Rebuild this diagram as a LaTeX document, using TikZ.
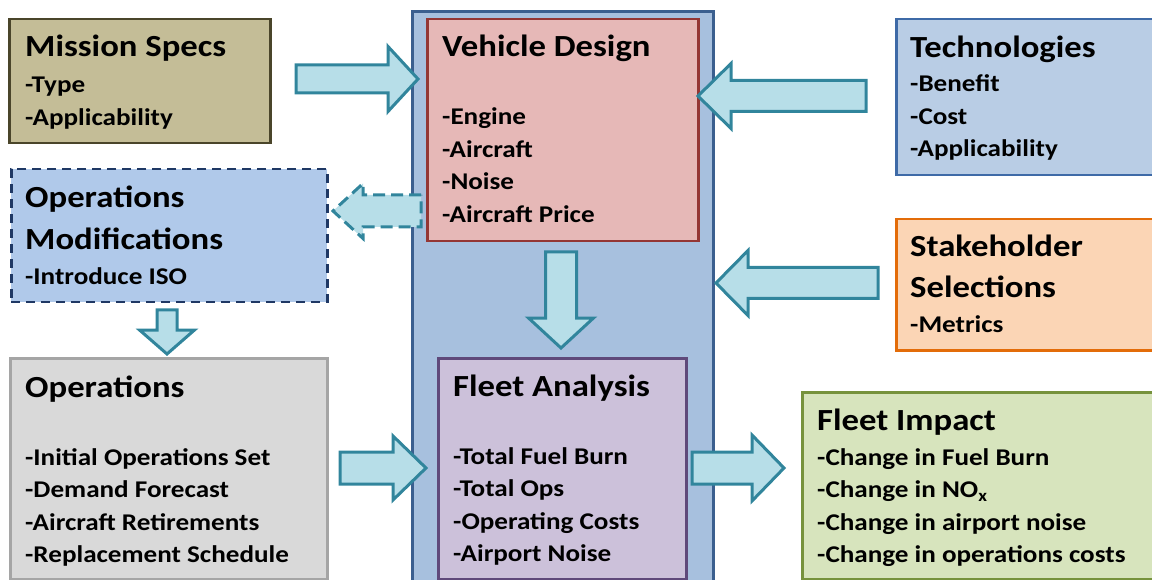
\documentclass[tikz,border=0pt]{standalone}
\usepackage{fontspec}
\setmainfont[FakeStretch=1.13]{Carlito}
\usepackage{xcolor}
\usetikzlibrary{calc}

\definecolor{contfill}{HTML}{A7C0DE}
\definecolor{contline}{HTML}{3B5F8F}
\definecolor{vdfill}{HTML}{E6B8B7}
\definecolor{vdline}{HTML}{943634}
\definecolor{fafill}{HTML}{CCC1DA}
\definecolor{faline}{HTML}{5F497A}
\definecolor{msfill}{HTML}{C4BD97}
\definecolor{msline}{HTML}{4A452A}
\definecolor{omfill}{HTML}{B0C9EA}
\definecolor{omline}{HTML}{1F3864}
\definecolor{opfill}{HTML}{D9D9D9}
\definecolor{opline}{HTML}{A5A5A5}
\definecolor{tefill}{HTML}{B9CDE5}
\definecolor{teline}{HTML}{3E6AA7}
\definecolor{shfill}{HTML}{FBD5B5}
\definecolor{shline}{HTML}{E36C09}
\definecolor{fifill}{HTML}{D7E4BD}
\definecolor{filine}{HTML}{76923C}
\definecolor{arrfill}{HTML}{B7DEE8}
\definecolor{arrline}{HTML}{31859C}

\tikzset{
  box/.style={draw, line width=2.5pt, anchor=north west, inner sep=0pt},
  ttl/.style={anchor=base west, inner sep=0pt, font=\fontsize{30.7}{32}\selectfont\bfseries},
  itm/.style={anchor=base west, inner sep=0pt, font=\fontsize{24}{26}\selectfont\bfseries},
  barrow/.style={draw=arrline, fill=arrfill, line width=3pt, line join=miter},
}

% horizontal block arrow: tail x, head base x, tip x, mid y, shaft half, head half
\newcommand\harr[7][]{%
  \draw[barrow,#1] ({#2},{#5-#6}) -- ({#3},{#5-#6}) -- ({#3},{#5-#7}) -- ({#4},{#5})
    -- ({#3},{#5+#7}) -- ({#3},{#5+#6}) -- ({#2},{#5+#6}) -- cycle;}
% vertical block arrow: tail y, head base y, tip y, mid x, shaft half, head half
\newcommand\varr[7][]{%
  \draw[barrow,#1] ({#5-#6},{#2}) -- ({#5-#6},{#3}) -- ({#5-#7},{#3}) -- ({#5},{#4})
    -- ({#5+#7},{#3}) -- ({#5+#6},{#3}) -- ({#5+#6},{#2}) -- cycle;}
% list of items, one per line
\newcommand\items[3]{%
  \foreach \t [count=\i from 0] in {#3}
    \node[itm] at ({#1},{#2+32.5*\i}) {\t};}

\begin{document}
\begin{tikzpicture}[x=1pt,y=-1pt]
\useasboundingbox (0,0) rectangle (1152,580);

% centre column
\node[box, line width=3pt, fill=contfill, draw=contline, minimum width=301, minimum height=600] (core) at (411,10) {};
\node[box, fill=vdfill, draw=vdline, minimum width=271, minimum height=222] (vd) at (426,18) {};
\node[box, fill=fafill, draw=faline, minimum width=248, minimum height=221] (fa) at (437,357) {};

% side boxes
\node[box, fill=msfill, draw=msline, minimum width=261, minimum height=124] (ms) at (8,18) {};
\node[box, fill=omfill, draw=omline, dashed, dash pattern=on 9pt off 6pt, minimum width=316, minimum height=133] (om) at (10,168) {};
\node[box, fill=opfill, draw=opline, minimum width=317, minimum height=221] (op) at (9,357) {};
\node[box, fill=tefill, draw=teline, minimum width=265, minimum height=156] (te) at (895,18) {};
\node[box, fill=shfill, draw=shline, minimum width=265, minimum height=131] (sh) at (895,218) {};
\node[box, fill=fifill, draw=filine, minimum width=355, minimum height=187] (fi) at (801,391) {};

% titles
\node[ttl] (msT) at (25,57) {Mission Specs};
\node[ttl] (vdT) at (442,57) {Vehicle Design};
\node[ttl] (teT) at (910,58) {Technologies};
\node[ttl] (omT) at (25,208) {Operations};
\node[ttl] (omT2) at (25,250) {Modifications};
\node[ttl] (shT) at (910,257) {Stakeholder};
\node[ttl] (shT2) at (910,298) {Selections};
\node[ttl] (opT) at (25,397) {Operations};
\node[ttl] (faT) at (453,396) {Fleet Analysis};
\node[ttl] (fiT) at (817,430) {Fleet Impact};

% items
\items{25}{93}{-Type,-Applicability}
\items{442}{125}{-Engine,-Aircraft,-Noise,-Aircraft Price}
\items{910}{92}{-Benefit,-Cost,-Applicability}
\items{25}{285}{-Introduce ISO}
\items{910}{333}{-Metrics}
\items{25}{465}{-Initial Operations Set,-Demand Forecast,-Aircraft Retirements,-Replacement Schedule}
\items{453}{464}{-Total Fuel Burn,-Total Ops,-Operating Costs,-Airport Noise}
\items{817}{465}{-Change in Fuel Burn,-Change in NO\textsubscript{x},-Change in airport noise,-Change in operations costs}

% block arrows
\harr{296}{388}{418}{79}{14}{32.5}
\harr{866}{731}{698}{96}{15.5}{32.5}
\harr{878}{748}{716}{283}{15.5}{32.5}
\harr[dashed, dash pattern=on 12pt off 6pt]{421}{363}{333}{211}{16}{27.5}
\varr{310}{330}{354}{167}{10}{27.5}
\varr{252}{318}{348}{561}{15.5}{32.5}
\harr{340}{393}{426}{468}{16}{32}
\harr{692}{752}{784}{468}{16}{33}

\end{tikzpicture}
\end{document}
